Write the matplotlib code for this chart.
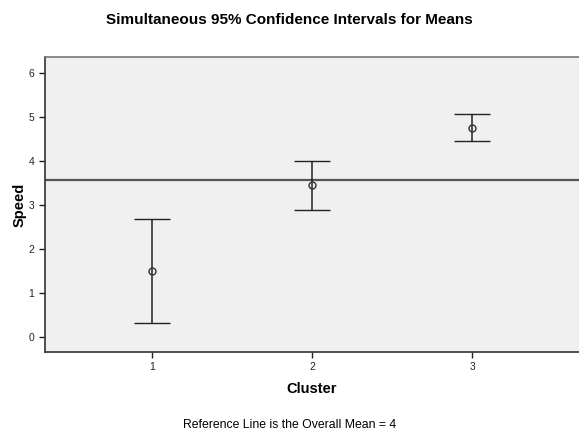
import matplotlib
matplotlib.use("Agg")
from matplotlib import pyplot as plt
import numpy as np

plt.rcParams['font.family'] = ['Liberation Sans', 'DejaVu Sans']

# data
clusters = [1, 2, 3]
means = [1.49, 3.45, 4.75]
lower = [0.30, 2.89, 4.45]
upper = [2.68, 4.00, 5.05]
overall_mean = 3.56
yticks = [0, 1, 2, 3, 4, 5, 6]

fig = plt.figure(figsize=(5.79, 4.32), dpi=100)
ax = fig.add_axes([0.0777, 0.186, 0.9223, 0.681])
ax.set_facecolor('#f0f0f0')

means_arr = np.array(means)
err = [means_arr - np.array(lower), np.array(upper) - means_arr]
ax.axhline(overall_mean, color='#555555', lw=1.6, zorder=1)
ax.errorbar(clusters, means, yerr=err, fmt='o', mfc='none', mec='#333333',
            ms=5, mew=1.0, ecolor='#222222', elinewidth=1.1, capsize=13.3,
            capthick=1.1, zorder=3)

ax.set_xlim(0.333, 3.667)
ax.set_ylim(-0.34, 6.345)
ax.set_xticks(clusters)
ax.set_yticks(yticks)
ax.tick_params(labelsize=7.5, colors='#222222', length=4, width=1.0)

for side in ['left', 'bottom']:
    ax.spines[side].set_color('#333333')
    ax.spines[side].set_linewidth(1.2)
ax.spines['top'].set_color('#777777')
ax.spines['top'].set_linewidth(1.2)
ax.spines['right'].set_visible(False)

ax.set_xlabel('Cluster', fontsize=10.5, fontweight='bold', labelpad=7)
ax.set_ylabel('Speed', fontsize=10.5, fontweight='bold', labelpad=1.5)

fig.text(0.5, 0.953, 'Simultaneous 95% Confidence Intervals for Means',
         ha='center', va='center', fontsize=11, fontweight='bold')
fig.text(0.5, 0.017, 'Reference Line is the Overall Mean = 4',
         ha='center', va='center', fontsize=8.8)

fig.savefig('out.png', dpi=100)
